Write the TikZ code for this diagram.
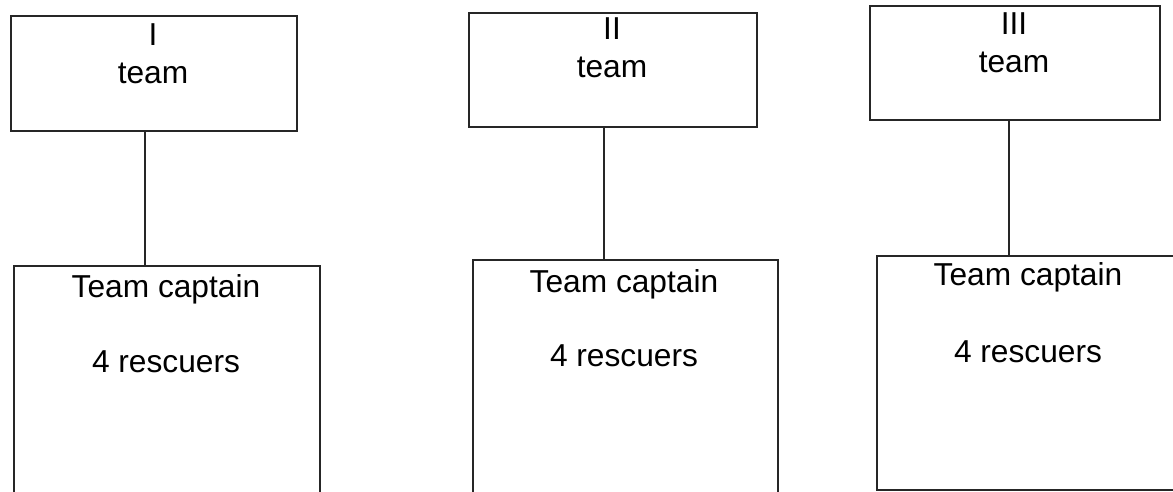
\documentclass[tikz,border=0pt]{standalone}
\usepackage{fontspec}
\setmainfont{Liberation Sans}
\usepackage{tikz}

\begin{document}
\begin{tikzpicture}[x=1pt,y=-1pt]
			\tikzstyle{every node}+=[inner sep=0pt]
			\tikzstyle{box}=[draw=black!85, line width=2pt, anchor=north west]
			\tikzstyle{label}=[anchor=base, align=center, font=\fontsize{31.7}{38}\selectfont]
			\useasboundingbox (0,0) rectangle (1173,491);
			\clip (0,0) rectangle (1173,491);
			% team boxes
			\node [box, minimum width=286pt, minimum height=115pt] (t1) at (10,15) {};
			\node [box, minimum width=288pt, minimum height=114pt] (t2) at (468,12) {};
			\node [box, minimum width=290pt, minimum height=114pt] (t3) at (869,5) {};
			\node [label] (n1) at (153,83) {I\\team};
			\node [label] (n2) at (612,77) {II\\team};
			\node [label] (n3) at (1014,72) {III\\team};
			% captain boxes
			\node [box, minimum width=306pt, minimum height=240pt] (b1) at (13,265) {};
			\node [box, minimum width=305pt, minimum height=240pt] (b2) at (472,259) {};
			\node [box, minimum width=304pt, minimum height=234pt] (b3) at (876,255) {};
			\node [label] (c1) at (166,372) {Team captain\\[37pt]4 rescuers};
			\node [label] (c2) at (624,366) {Team captain\\[36pt]4 rescuers};
			\node [label] (c3) at (1028,362) {Team captain\\[39pt]4 rescuers};
			% links
			\draw [black!85, line width=1.8pt] (t1.south) ++(-9,0) coordinate (l1) -- (l1 |- b1.north);
			\draw [black!85, line width=1.8pt] (t2.south) ++(-9,0) coordinate (l2) -- (l2 |- b2.north);
			\draw [black!85, line width=1.8pt] (t3.south) ++(-6,0) coordinate (l3) -- (l3 |- b3.north);
		\end{tikzpicture}
\end{document}
